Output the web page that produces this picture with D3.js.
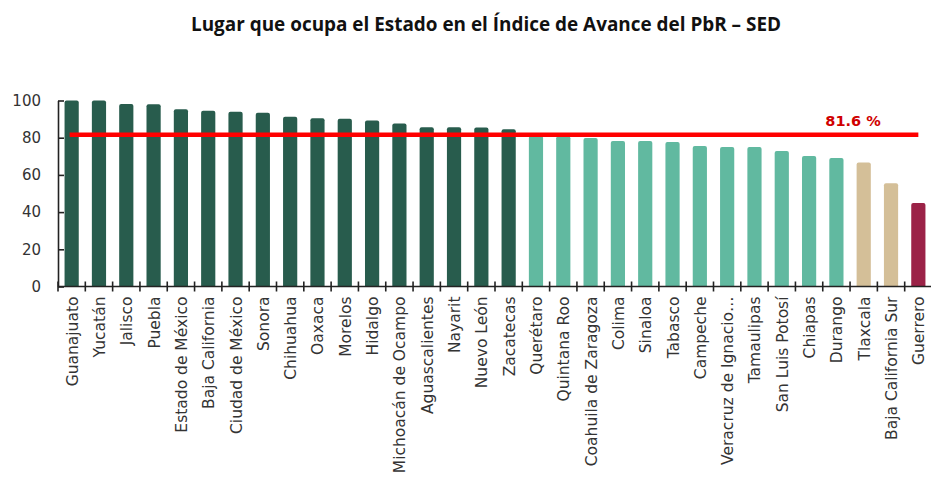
<!DOCTYPE html>
<html>
  <head>
    <meta charset="utf-8">
    <style type="text/css">
      body { margin: 0; background: #fff; }
      .axis path, .axis line { stroke: #222; stroke-width: 1.6; }
      .axis text { fill: #333; font-family: "DejaVu Sans", sans-serif; }
    </style>
  </head>
  <body>
    <script src="https://d3js.org/d3.v7.min.js"></script>
    <script>
      // data
      var estados = ["Guanajuato", "Yucatán", "Jalisco", "Puebla", "Estado de México",
        "Baja California", "Ciudad de México", "Sonora", "Chihuahua", "Oaxaca",
        "Morelos", "Hidalgo", "Michoacán de Ocampo", "Aguascalientes", "Nayarit",
        "Nuevo León", "Zacatecas", "Querétaro", "Quintana Roo", "Coahuila de Zaragoza",
        "Colima", "Sinaloa", "Tabasco", "Campeche", "Veracruz de Ignacio…",
        "Tamaulipas", "San Luis Potosí", "Chiapas", "Durango", "Tlaxcala",
        "Baja California Sur", "Guerrero"];
      var valores = [100, 100, 98.1, 98.0, 95.3, 94.5, 94.0, 93.4, 91.3, 90.4,
        90.2, 89.3, 87.7, 85.6, 85.6, 85.5, 84.5, 81.0, 80.8, 79.8,
        78.2, 78.2, 77.7, 75.5, 75.0, 75.0, 72.8, 70.2, 69.1, 66.6,
        55.5, 44.9];
      // group of each bar: 0 above average, 1 middle, 2 low, 3 lowest
      var grupo = [0,0,0,0,0,0,0,0,0,0,0,0,0,0,0,0,0,1,1,1,1,1,1,1,1,1,1,1,1,2,2,3];
      var promedio = 81.6;
      var yTicks = [0, 20, 40, 60, 80, 100];
      var colores = ["#285c4d", "#61b9a0", "#d4bf98", "#9b2247"];

      var width = 931, height = 479;
      var margin = {top: 100, right: 0, bottom: 193, left: 58};

      var svg = d3.select("body").append("svg")
        .attr("width", width)
        .attr("height", height);

      svg.append("text")
        .attr("x", 486)
        .attr("y", 31)
        .attr("text-anchor", "middle")
        .attr("textLength", 590)
        .attr("lengthAdjust", "spacingAndGlyphs")
        .style("font-family", "'Liberation Sans Narrow', 'Open Sans', sans-serif")
        .style("font-weight", "bold")
        .style("font-size", "20px")
        .style("fill", "#111")
        .text("Lugar que ocupa el Estado en el Índice de Avance del PbR – SED");

      var x = d3.scaleBand()
        .domain(estados)
        .range([margin.left, 932])
        .paddingInner(0.48)
        .paddingOuter(0.24);

      var y = d3.scaleLinear()
        .domain([0, 100])
        .range([286.5, 100.5]);

      var datos = estados.map(function(e, i) {
        return {estado: e, valor: valores[i], grupo: grupo[i]};
      });

      // bars with slightly rounded tops
      function barPath(d) {
        var x0 = x(d.estado), w = x.bandwidth(), y0 = y(d.valor), y1 = y(0), r = 2;
        return "M" + x0 + "," + y1 + "V" + (y0 + r) +
          "Q" + x0 + "," + y0 + " " + (x0 + r) + "," + y0 +
          "H" + (x0 + w - r) +
          "Q" + (x0 + w) + "," + y0 + " " + (x0 + w) + "," + (y0 + r) +
          "V" + y1 + "Z";
      }

      svg.append("g")
        .selectAll("path")
        .data(datos)
        .enter()
        .append("path")
        .attr("d", barPath)
        .style("fill", function(d) { return colores[d.grupo]; });

      // y axis
      var yAxis = svg.append("g")
        .attr("class", "axis")
        .attr("transform", "translate(" + margin.left + ",0)")
        .call(d3.axisLeft(y).tickValues(yTicks).tickSize(-6).tickPadding(17).tickSizeOuter(0));
      yAxis.selectAll("text").style("font-size", "15px");

      // x axis, ticks between bands crossing the line
      var xAxis = svg.append("g")
        .attr("class", "axis")
        .attr("transform", "translate(0," + y(0) + ")");
      xAxis.append("line")
        .attr("x1", margin.left).attr("x2", 932)
        .attr("y1", 0).attr("y2", 0);
      xAxis.selectAll(".tk")
        .data(estados)
        .enter()
        .append("line")
        .attr("class", "tk")
        .attr("x1", function(d) { return x(d) - x.step() * x.paddingInner() / 2; })
        .attr("x2", function(d) { return x(d) - x.step() * x.paddingInner() / 2; })
        .attr("y1", -5).attr("y2", 5);
      xAxis.selectAll(".lbl")
        .data(estados)
        .enter()
        .append("text")
        .attr("class", "lbl")
        .attr("transform", function(d) {
          return "translate(" + (x(d) + x.bandwidth() / 2 + 6) + ",10) rotate(-90)";
        })
        .attr("text-anchor", "end")
        .style("font-size", "15.5px")
        .text(function(d) { return d; });

      // average line
      svg.append("line")
        .attr("x1", x(estados[0]) + x.bandwidth() / 2 - 2)
        .attr("x2", x(estados[estados.length - 1]) + x.bandwidth() / 2)
        .attr("y1", y(promedio))
        .attr("y2", y(promedio))
        .style("stroke", "#ff0000")
        .style("stroke-width", 4.5);

      svg.append("text")
        .attr("x", 853)
        .attr("y", y(promedio) - 9)
        .attr("text-anchor", "middle")
        .style("font-family", "'DejaVu Sans', sans-serif")
        .style("font-weight", "bold")
        .style("font-size", "14.5px")
        .style("fill", "#d00000")
        .text(promedio + " %");
    </script>
  </body>
</html>
